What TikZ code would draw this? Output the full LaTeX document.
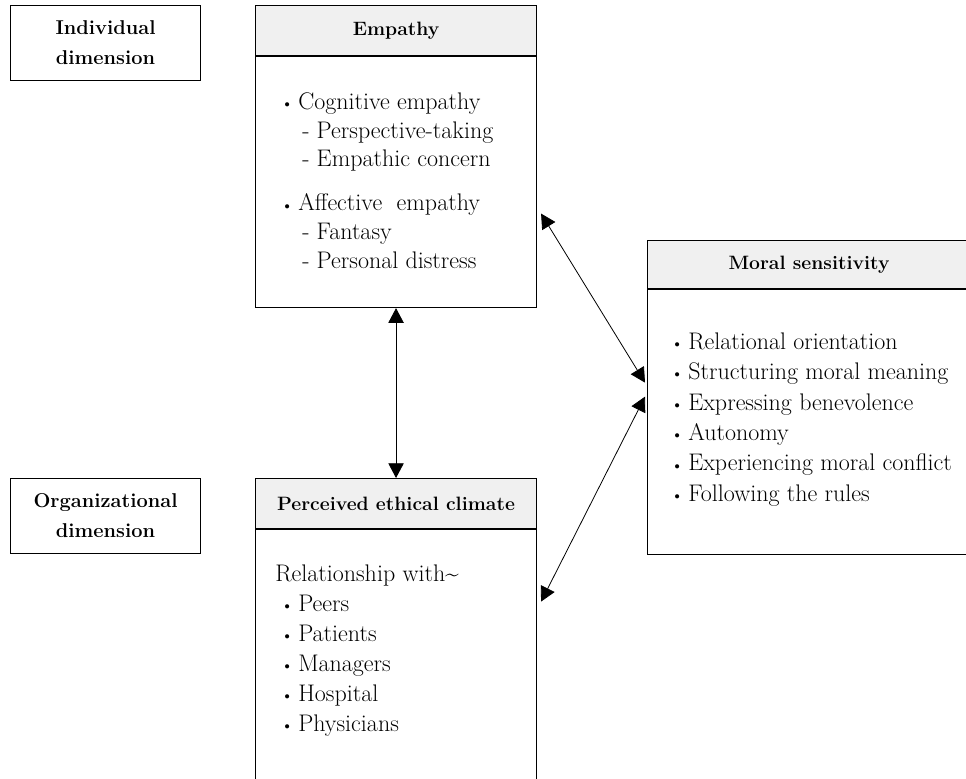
\documentclass[tikz,border=0pt]{standalone}
\usepackage{tikz}
\usetikzlibrary{arrows.meta,positioning}

\newcommand{\itm}{\makebox[11.25pt][l]{\hspace*{-1.5pt}\raisebox{0.6pt}{\fontsize{11.5}{11.5}\selectfont\textbullet}}}
\newcommand{\subitm}{\hspace*{14.25pt}- }

\begin{document}
\begin{tikzpicture}[x=1pt, y=1pt,
  hdr/.style={draw, line width=0.8pt, fill=black!6, minimum height=37.5pt,
              font=\fontsize{14.5}{18}\selectfont\bfseries, inner sep=0pt},
  body/.style={draw, line width=0.8pt, inner sep=0pt},
  dim/.style={draw, line width=0.8pt, minimum width=142.5pt, minimum height=56.25pt,
              align=center, font=\fontsize{15}{22.5}\selectfont\bfseries},
  txt/.style={anchor=north west, inner sep=0pt, align=left},
  arr/.style={{Triangle[length=11pt,width=11.5pt]}-{Triangle[length=11pt,width=11.5pt]},
              line width=0.6pt}
]
\useasboundingbox (0,0) rectangle (724.5,-583.5);
\clip (0,0) rectangle (724.5,-583.5);
\fill[white] (0,0) rectangle (724.5,-583.5);
% --- dimensions (left) ---
\node[dim, anchor=north west] (indiv) at (7.5,-3.75) {Individual\\dimension};
\node[dim, anchor=north west] (organ) at (7.5,-358.5) {Organizational\\dimension};
% --- empathy ---
\node[hdr, minimum width=210.75pt, anchor=north west] (emphead) at (191.25,-3.75) {Empathy};
\node[body, minimum width=210.75pt, minimum height=188.25pt, below=0pt of emphead] (empbody) {};
\node[txt, font=\fontsize{18}{21.5}\selectfont] (emptext) at ([shift={(21,-27.3)}]empbody.north west)
  {\itm Cognitive empathy\\
   \subitm Perspective-taking\\
   \subitm Empathic concern\\[11.5pt]
   \itm Affective\ \ empathy\\
   \subitm Fantasy\\
   \subitm Personal distress};
% --- perceived ethical climate ---
\node[hdr, minimum width=210.75pt, anchor=north west] (clihead) at (191.25,-358.5) {Perceived ethical climate};
\node[body, minimum width=210.75pt, minimum height=210pt, below=0pt of clihead] (clibody) {};
\node[txt, font=\fontsize{18}{22.5}\selectfont] (clitext) at ([shift={(15,-26.5)}]clibody.north west)
  {Relationship with\textasciitilde\\
   \hspace*{6pt}\itm Peers\\
   \hspace*{6pt}\itm Patients\\
   \hspace*{6pt}\itm Managers\\
   \hspace*{6pt}\itm Hospital\\
   \hspace*{6pt}\itm Physicians};
% --- moral sensitivity ---
\node[hdr, minimum width=242.25pt, minimum height=36pt, anchor=north west] (morhead) at (485.25,-180) {Moral sensitivity};
\node[body, minimum width=242.25pt, minimum height=198.75pt, below=0pt of morhead] (morbody) {};
\node[txt, font=\fontsize{18}{22.8}\selectfont] (mortext) at ([shift={(19.5,-32.5)}]morbody.north west)
  {\itm Relational orientation\\
   \itm Structuring moral meaning\\
   \itm Expressing benevolence\\
   \itm Autonomy\\
   \itm Experiencing moral conflict\\
   \itm Following the rules};
% --- arrows ---
\coordinate (empR) at ([shift={(3,-23.6)}]empbody.east);
\coordinate (cliR) at ([shift={(3,51)}]clibody.east);
\coordinate (morA) at ([shift={(-1.5,29.6)}]morbody.west);
\coordinate (morB) at ([shift={(-1.5,19.1)}]morbody.west);
\draw[arr] (empbody.south) -- (clihead.north);
\draw[arr] (empR) -- (morA);
\draw[arr] (cliR) -- (morB);
\end{tikzpicture}
\end{document}
